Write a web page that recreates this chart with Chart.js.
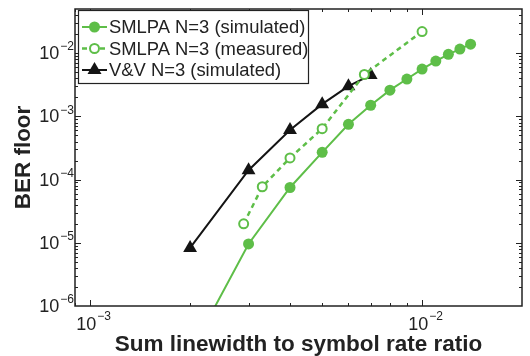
<!DOCTYPE html>
<html>
<head>
<meta charset="utf-8">
<script src="https://cdn.jsdelivr.net/npm/chart.js@4/dist/chart.umd.min.js"></script>
<style>
  html, body { margin: 0; padding: 0; background: #fff; }
  #wrap { width: 530px; height: 356px; }
</style>
</head>
<body>
<div id="wrap"><canvas id="berChart"></canvas></div>
<script>
// data
const ratioSim = [0.002, 0.003, 0.004, 0.005, 0.006, 0.007, 0.008, 0.009, 0.010, 0.011, 0.012, 0.013, 0.014];
const berSim = [1.8e-7, 9.6e-6, 7.5e-5, 2.7e-4, 7.5e-4, 1.5e-3, 2.6e-3, 3.9e-3, 5.6e-3, 7.5e-3, 9.6e-3, 1.16e-2, 1.39e-2];

const ratioMeas = [0.0029, 0.0033, 0.004, 0.005, 0.0067, 0.010];
const berMeas = [2.0e-5, 7.7e-5, 2.2e-4, 6.4e-4, 4.6e-3, 2.2e-2];

const ratioVV = [0.002, 0.003, 0.004, 0.005, 0.006, 0.007];
const berVV = [8.3e-6, 1.41e-4, 6.1e-4, 1.56e-3, 3.0e-3, 4.5e-3];

const xTickExps = [-3, -2];
const yTickExps = [-6, -5, -4, -3, -2];

const green = "rgb(94, 190, 72)";
const black = "rgb(20, 20, 20)";
const FONT = "'Liberation Sans', Arial, Helvetica, sans-serif";

const toPoints = (xs, ys) => xs.map((x, i) => ({ x: x, y: ys[i] }));

const supLabel = (ctx, exp, x, y, align, raise) => {
    const base = "10";
    const sup = "\u2212" + Math.abs(exp);
    ctx.font = "18px " + FONT;
    const bw = ctx.measureText(base).width;
    ctx.font = "12px " + FONT;
    const ew = ctx.measureText(sup).width;
    let start = align === "right" ? x - bw - ew : x - (bw + ew) / 2 + 3;
    ctx.textAlign = "left";
    ctx.textBaseline = "middle";
    ctx.font = "18px " + FONT;
    ctx.fillText(base, start, y);
    ctx.font = "12px " + FONT;
    ctx.fillText(sup, start + bw + 1, y - raise);
};

const drawMarker = (ctx, style, x, y) => {
    ctx.save();
    if (style === "filled") {
        ctx.fillStyle = green;
        ctx.beginPath(); ctx.arc(x, y, 5.5, 0, Math.PI * 2); ctx.fill();
    } else if (style === "open") {
        ctx.strokeStyle = green; ctx.lineWidth = 2; ctx.fillStyle = "#fff";
        ctx.beginPath(); ctx.arc(x, y, 4.5, 0, Math.PI * 2); ctx.fill(); ctx.stroke();
    } else {
        ctx.fillStyle = black;
        ctx.beginPath();
        ctx.moveTo(x, y - 8); ctx.lineTo(x + 7, y + 4); ctx.lineTo(x - 7, y + 4);
        ctx.closePath(); ctx.fill();
    }
    ctx.restore();
};

const axisDecor = {
    id: "axisDecor",
    afterDatasetsDraw(chart) {
        const ctx = chart.ctx;
        const xs = chart.scales.x, ys = chart.scales.y;
        const { left, right, top, bottom } = chart.chartArea;
        ctx.save();
        ctx.strokeStyle = "#222";
        ctx.lineWidth = 1;
        ctx.beginPath();
        for (let e = -4; e <= -1; e++) {
            for (let m = 1; m <= 9; m++) {
                const v = m * Math.pow(10, e);
                const len = m === 1 ? 6 : 3;
                if (v > xs.min && v < xs.max) {
                    const px = Math.round(xs.getPixelForValue(v)) + 0.5;
                    ctx.moveTo(px, bottom); ctx.lineTo(px, bottom - len);
                    ctx.moveTo(px, top); ctx.lineTo(px, top + len);
                }
            }
        }
        for (let e = -7; e <= -1; e++) {
            for (let m = 1; m <= 9; m++) {
                const v = m * Math.pow(10, e);
                const len = m === 1 ? 6 : 3;
                if (v > ys.min && v < ys.max) {
                    const py = Math.round(ys.getPixelForValue(v)) + 0.5;
                    ctx.moveTo(left, py); ctx.lineTo(left + len, py);
                    ctx.moveTo(right, py); ctx.lineTo(right - len, py);
                }
            }
        }
        ctx.stroke();

        // frame
        ctx.lineWidth = 1.5;
        ctx.strokeStyle = "#222";
        ctx.strokeRect(left, top, right - left, bottom - top);

        // tick labels
        ctx.fillStyle = "#222";
        xTickExps.forEach(e => supLabel(ctx, e, xs.getPixelForValue(Math.pow(10, e)), 325, "center", 8));
        yTickExps.forEach(e => supLabel(ctx, e, 73, ys.getPixelForValue(Math.pow(10, e)) + 1, "right", 7));

        // legend
        ctx.fillStyle = "#fff";
        ctx.fillRect(78.5, 10.5, 230, 73);
        ctx.lineWidth = 1.2;
        ctx.strokeStyle = "#222";
        ctx.strokeRect(78.5, 10.5, 230, 73);
        const rowsY = [27, 48.5, 70];
        chart.data.datasets.forEach((ds, i) => {
            const y = rowsY[i];
            ctx.save();
            ctx.strokeStyle = ds.borderColor;
            ctx.lineWidth = ds.borderWidth;
            ctx.setLineDash(ds.borderDash || []);
            ctx.beginPath(); ctx.moveTo(82, y); ctx.lineTo(107, y); ctx.stroke();
            ctx.restore();
            drawMarker(ctx, ds.markerKind, 94.5, y);
            ctx.fillStyle = "#222";
            ctx.font = "18.4px " + FONT;
            ctx.textAlign = "left";
            ctx.textBaseline = "middle";
            ctx.fillText(ds.label, 109, y + 1);
        });
        ctx.restore();
    }
};

const ctx = document.getElementById("berChart").getContext("2d");

const berChart = new Chart(ctx, {
    type: "line",
    data: {
        datasets: [
            {
                label: "SMLPA N=3 (simulated)",
                markerKind: "filled",
                data: toPoints(ratioSim, berSim),
                borderColor: green,
                backgroundColor: green,
                borderWidth: 2,
                pointStyle: "circle",
                pointRadius: ratioSim.map(v => (v < 0.0025 ? 0 : 5.5)),
                pointBorderWidth: 0,
            },
            {
                label: "SMLPA N=3 (measured)",
                markerKind: "open",
                data: toPoints(ratioMeas, berMeas),
                borderColor: green,
                backgroundColor: "#fff",
                borderWidth: 2.5,
                borderDash: [5, 4],
                pointStyle: "circle",
                pointRadius: 4.5,
                pointBorderWidth: 2,
            },
            {
                label: "V&V N=3 (simulated)",
                markerKind: "triangle",
                data: toPoints(ratioVV, berVV),
                borderColor: black,
                backgroundColor: black,
                borderWidth: 2,
                pointStyle: "triangle",
                pointRadius: 8,
                pointBorderWidth: 0,
            },
        ],
    },
    options: {
        responsive: true,
        maintainAspectRatio: false,
        animation: false,
        devicePixelRatio: 1,
        layout: { padding: { top: 9, right: 1, left: 0, bottom: 0 } },
        plugins: {
            legend: { display: false },
            tooltip: { enabled: false },
        },
        scales: {
            x: {
                type: "logarithmic",
                min: 9e-4,
                max: 0.02,
                grid: { display: false },
                border: { display: false },
                ticks: { display: false },
                afterFit: (scale) => { scale.height = 50; },
                title: {
                    display: true,
                    text: "Sum linewidth to symbol rate ratio",
                    color: "#222",
                    font: { family: FONT, size: 22.5, weight: "bold", lineHeight: 1 },
                    padding: { top: 0, bottom: 0 },
                },
            },
            y: {
                type: "logarithmic",
                min: 1e-6,
                max: 0.05,
                grid: { display: false },
                border: { display: false },
                ticks: { display: false },
                afterFit: (scale) => { scale.width = 75; },
                title: {
                    display: true,
                    text: "BER floor",
                    color: "#222",
                    font: { family: FONT, size: 22.5, weight: "bold", lineHeight: 1 },
                    padding: { top: 13, bottom: 0 },
                },
            },
        },
    },
    plugins: [axisDecor],
});
</script>
</body>
</html>
